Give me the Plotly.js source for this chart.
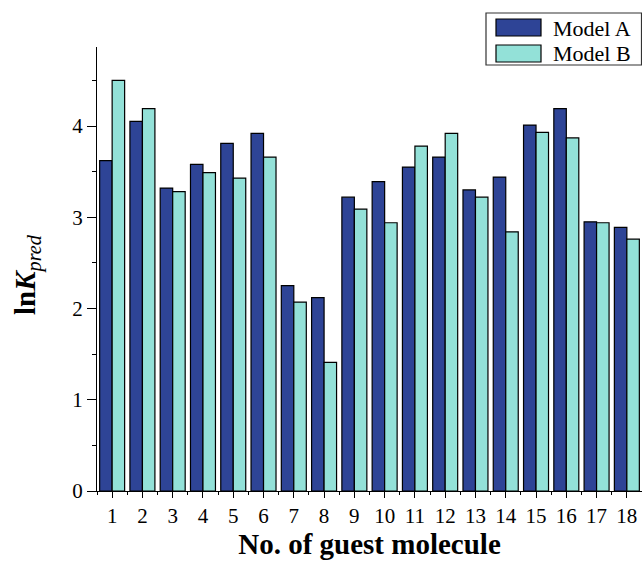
<!DOCTYPE html>
<html><head><meta charset="utf-8">
<script src="https://cdn.plot.ly/plotly-3.0.1.min.js"></script>
<style>body{margin:0;padding:0;background:#fff}#chart{width:642px;height:561px}</style>
</head><body><div id="chart"></div>
<script>
const categories = [1,2,3,4,5,6,7,8,9,10,11,12,13,14,15,16,17,18];
const tickLabels = categories.map(String);
const seriesNames = ['Model A', 'Model B'];
const modelA = [3.62,4.05,3.32,3.58,3.81,3.92,2.25,2.12,3.22,3.39,3.55,3.66,3.30,3.44,4.01,4.19,2.95,2.89];
const modelB = [4.50,4.19,3.28,3.49,3.43,3.66,2.07,1.41,3.09,2.94,3.78,3.92,3.22,2.84,3.93,3.87,2.94,2.76];

const colors = ['#2e4496', '#93e1d8'];
const serif = 'Liberation Serif, Times New Roman, serif';
const traces = [
  {type:'bar', name:seriesNames[0], x:categories, y:modelA,
   marker:{color:colors[0], line:{color:'#000', width:1.2}}},
  {type:'bar', name:seriesNames[1], x:categories, y:modelB,
   marker:{color:colors[1], line:{color:'#000', width:1.2}}}
];

// legend and y title placed in paper coordinates (plot area: x 97..642 px, y 47..491 px)
const px = v => (v - 97) / 545;
const py = v => (491 - v) / 444;
const shapes = [
  {type:'rect', xref:'paper', yref:'paper', x0:px(486), x1:px(641.5), y0:py(65), y1:py(13),
   line:{color:'#333', width:1.2}, fillcolor:'#fff', layer:'above'},
  {type:'rect', xref:'paper', yref:'paper', x0:px(496), x1:px(541), y0:py(36), y1:py(19),
   line:{color:'#000', width:1.2}, fillcolor:colors[0], layer:'above'},
  {type:'rect', xref:'paper', yref:'paper', x0:px(496), x1:px(541), y0:py(62), y1:py(45),
   line:{color:'#000', width:1.2}, fillcolor:colors[1], layer:'above'}
];
const annotations = [
  {xref:'paper', yref:'paper', x:px(551), y:py(28), xanchor:'left', yanchor:'middle', showarrow:false,
   text:seriesNames[0], font:{family:serif, size:22, color:'#000'}},
  {xref:'paper', yref:'paper', x:px(551), y:py(54), xanchor:'left', yanchor:'middle', showarrow:false,
   text:seriesNames[1], font:{family:serif, size:22, color:'#000'}},
  {xref:'paper', yref:'paper', x:px(27), y:py(275), xanchor:'center', yanchor:'middle', showarrow:false,
   textangle:-90, text:'<b>ln<i>K</i></b><sub><i>pred</i></sub>', font:{family:serif, size:29, color:'#000'}}
];

const layout = {
  width:642, height:561,
  margin:{l:97, r:0, t:47, b:70},
  paper_bgcolor:'#fff', plot_bgcolor:'#fff',
  barmode:'group', bargap:0.175, bargroupgap:0,
  showlegend:false,
  shapes:shapes, annotations:annotations,
  xaxis:{range:[0.5,18.5], tickmode:'array', tickvals:categories, ticktext:tickLabels,
    showgrid:false, zeroline:false, showline:true, linecolor:'#000', linewidth:1,
    ticks:'outside', ticklen:6, tickcolor:'#000', tickwidth:1,
    minor:{ticks:'outside', tick0:0.5, dtick:1, ticklen:3, tickcolor:'#000', tickwidth:1},
    tickfont:{family:serif, size:21, color:'#000'},
    title:{text:'<b>No. of guest molecule</b>', font:{family:serif, size:29, color:'#000'}, standoff:4}},
  yaxis:{range:[0,4.866], tickmode:'linear', tick0:0, dtick:1,
    showgrid:false, zeroline:false, showline:true, linecolor:'#000', linewidth:1,
    ticks:'outside', ticklen:9, tickcolor:'#000', tickwidth:1,
    minor:{ticks:'outside', dtick:0.5, ticklen:4, tickcolor:'#000', tickwidth:1},
    tickfont:{family:serif, size:21, color:'#000'}}
};
Plotly.newPlot('chart', traces, layout, {displayModeBar:false, staticPlot:true});
</script></body></html>
